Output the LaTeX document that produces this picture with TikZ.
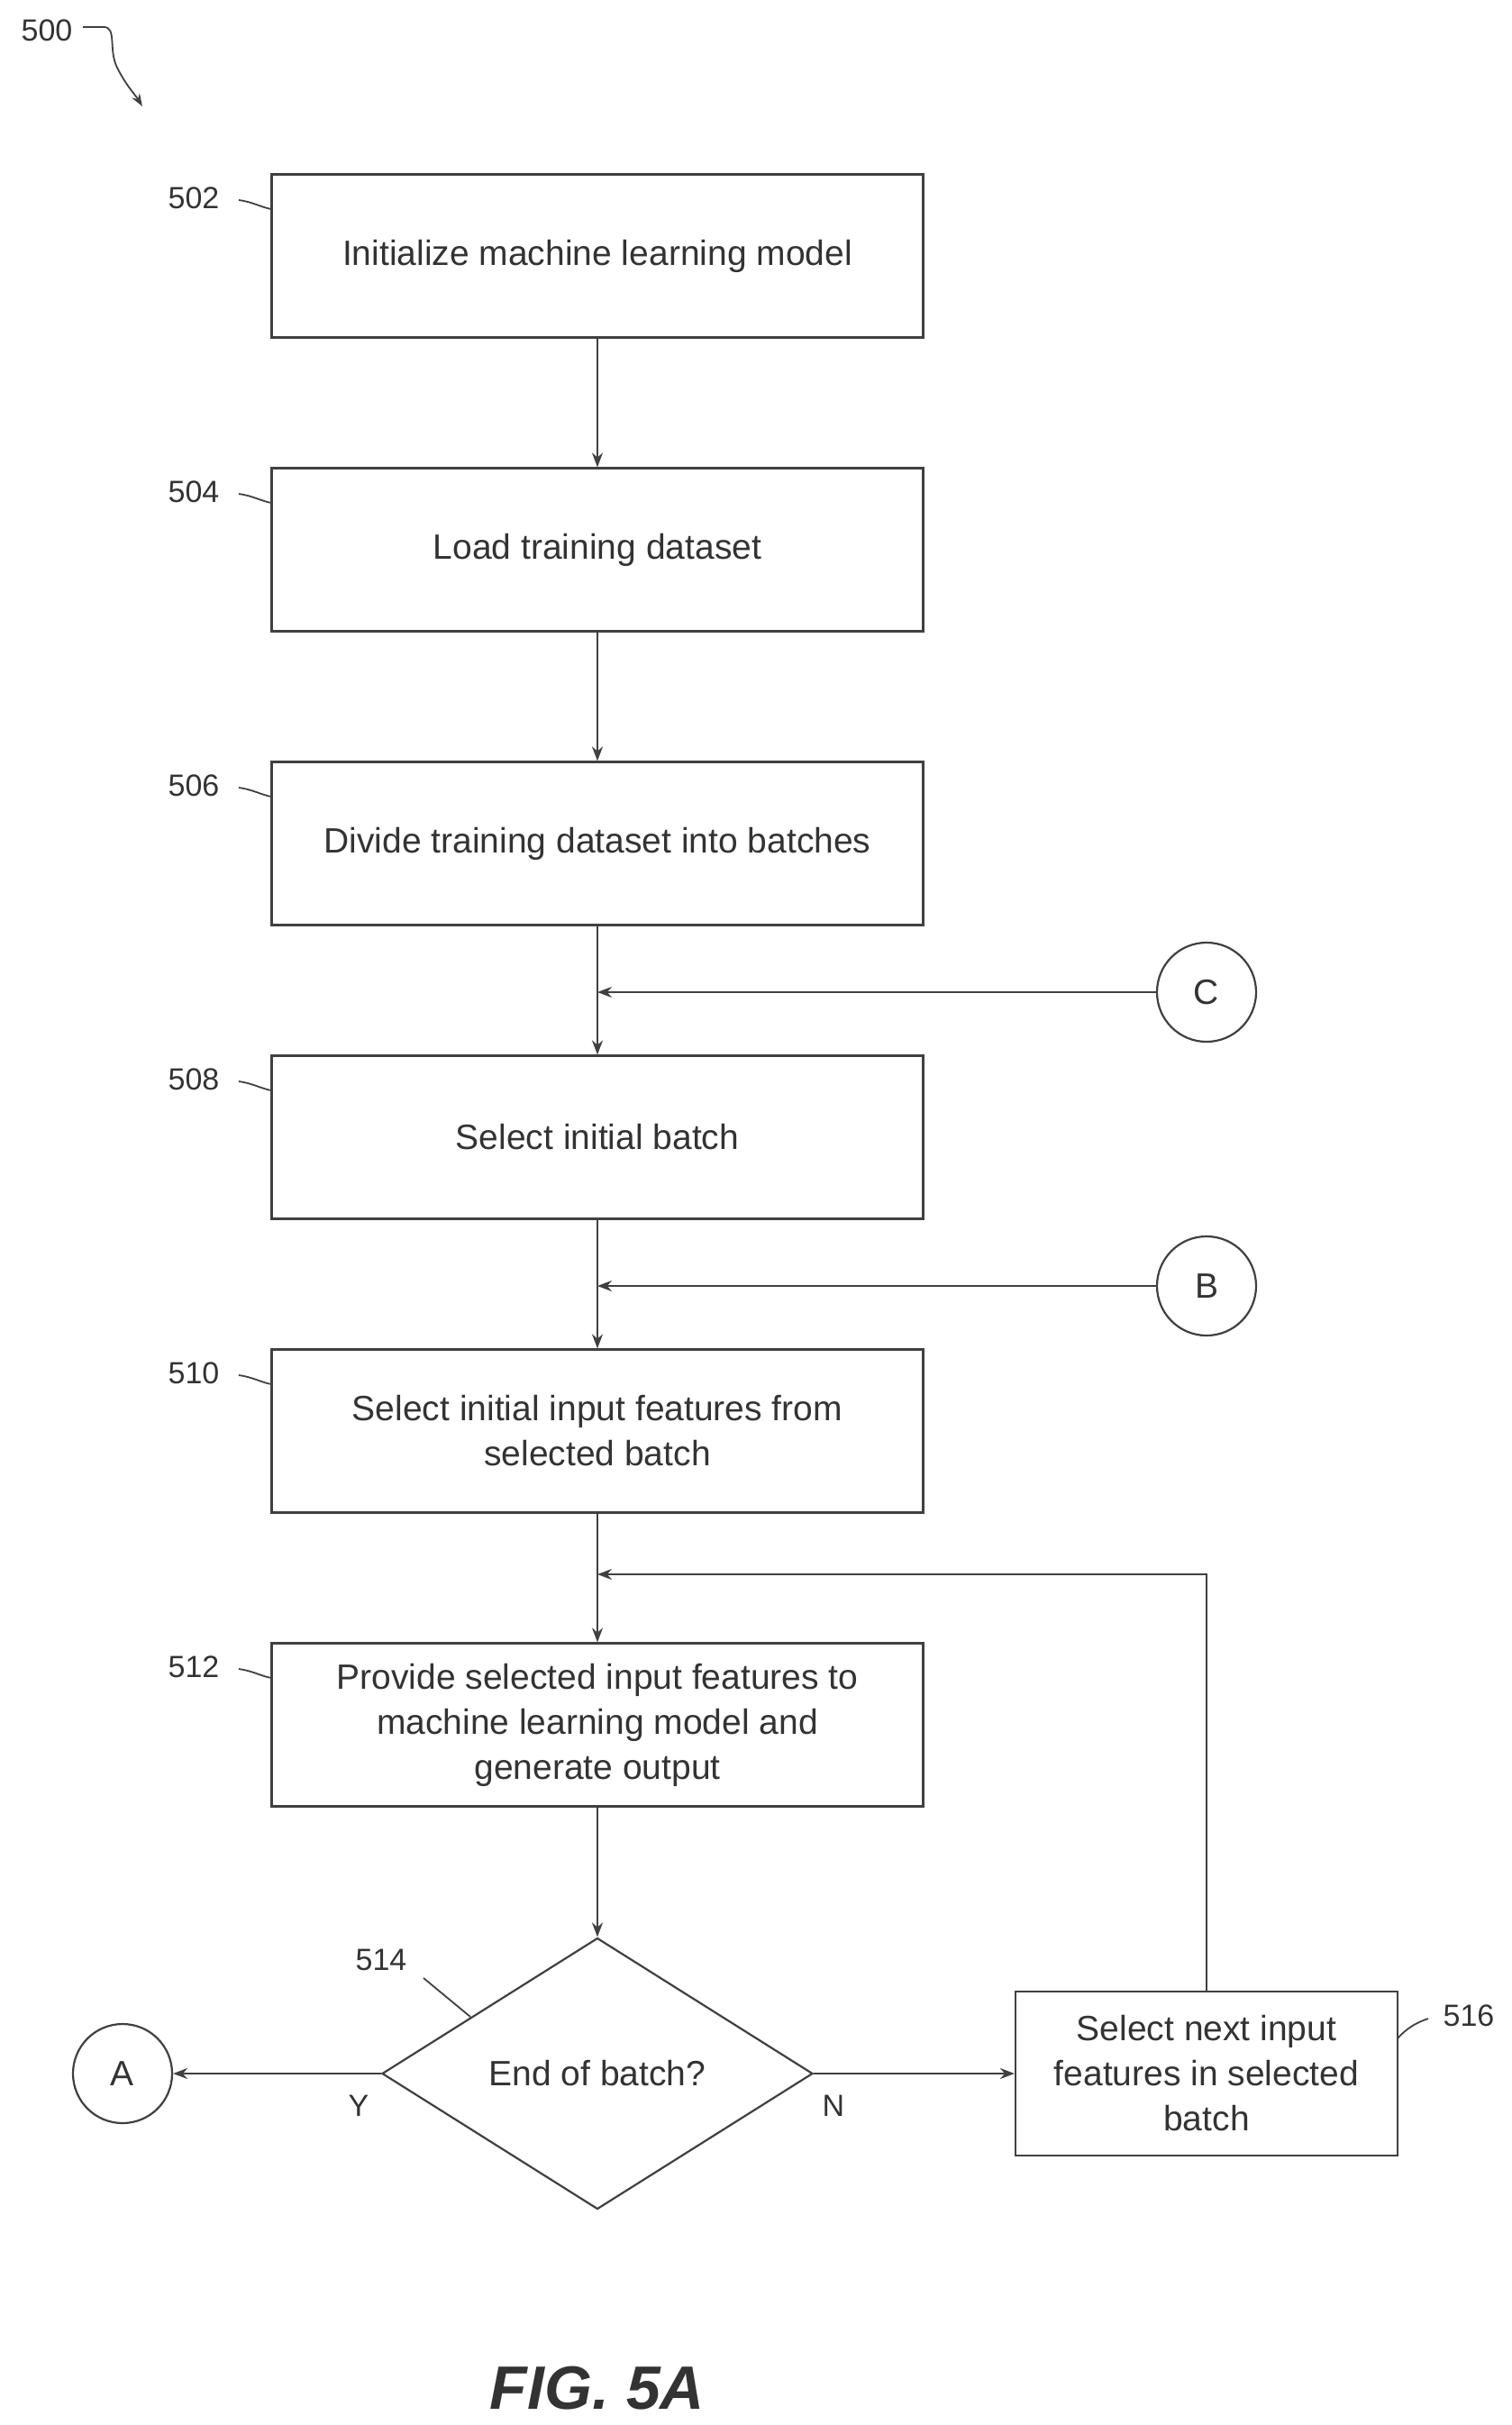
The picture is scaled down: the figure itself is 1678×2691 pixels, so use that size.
\documentclass[tikz,border=0pt]{standalone}
\usepackage{fontspec}
\setmainfont{Liberation Sans}
\usetikzlibrary{shapes.geometric,arrows.meta,decorations.pathmorphing}
\begin{document}
\begin{tikzpicture}[x=1pt,y=-1pt,
  every node/.style={font=\fontsize{39}{50}\selectfont, text=black!80},
  box/.style={draw=black!75, line width=2.2pt, minimum width=723pt, minimum height=181pt, align=center, inner sep=0pt},
  circ/.style={draw=black!75, line width=2.2pt, circle, minimum size=110pt, inner sep=0pt},
  ln/.style={draw=black!75, line width=2.2pt},
  arr/.style={ln, -{Stealth[length=16pt,width=12pt]}},
  lab/.style={font=\fontsize{34}{38}\selectfont}]
\useasboundingbox (0,0) rectangle (1678,2691);
\node[box] (b502) at (663,284) {Initialize machine learning model};
\node[box] (b504) at (663,610) {Load training dataset};
\node[box] (b506) at (663,936) {Divide training dataset into batches};
\node[box] (b508) at (663,1262) {Select initial batch};
\node[box] (b510) at (663,1588) {Select initial input features from\\selected batch};
\node[box] (b512) at (663,1914) {Provide selected input features to\\machine learning model and\\generate output};
\node[diamond, draw=black!75, line width=2.2pt, aspect=1.6, minimum width=478pt, minimum height=301pt, inner sep=0pt] (d514) at (663,2301) {End of batch?};
\node[box, minimum width=424pt, minimum height=182pt] (b516) at (1339,2301) {Select next input\\features in selected\\batch};
\node[circ] (C) at (1339,1101) {C};
\node[circ] (B) at (1339,1427) {B};
\node[circ] (A) at (136,2301) {A};
\draw[arr] (b502) -- (b504);
\draw[arr] (b504) -- (b506);
\draw[arr] (b506) -- (b508);
\draw[arr] (b508) -- (b510);
\draw[arr] (b510) -- (b512);
\draw[arr] (b512) -- (d514);
\coordinate (jc) at (663,1101);
\coordinate (jb) at (663,1427);
\coordinate (jl) at (663,1747);
\draw[arr] (C) -- (jc);
\draw[arr] (B) -- (jb);
\draw[arr] (b516.north) |- (jl);
\draw[arr] (d514.east) -- (b516.west);
\draw[arr] (d514.west) -- (A);
\node[lab] at (925,2337) {N};
\node[lab] at (398,2337) {Y};
\node[lab] (l502) at (215,220) {502};
\node[lab] (l504) at (215,546) {504};
\node[lab] (l506) at (215,872) {506};
\node[lab] (l508) at (215,1198) {508};
\node[lab] (l510) at (215,1524) {510};
\node[lab] (l512) at (215,1850) {512};
\foreach \n/\y in {502/220,504/546,506/872,508/1198,510/1524,512/1850}
  \draw[ln, line width=1.8pt] (265,\y+2) .. controls (280,\y+4) and (290,\y+10) .. (301,\y+12);
\node[lab] (l514) at (423,2175) {514};
\draw[ln, line width=1.8pt] (470,2195) -- (522,2238);
\node[lab] (l516) at (1630,2237) {516};
\draw[ln, line width=1.8pt] (1585,2240) .. controls (1570,2245) and (1560,2252) .. (1551,2262);
\node[lab] (l500) at (52,34) {500};
\draw[ln, line width=1.8pt, -{Stealth[length=14pt,width=10pt]}] (92,30) -- (115,30) .. controls (130,30) and (120,55) .. (130,75) .. controls (140,95) and (150,105) .. (158,118);
\node[font=\bfseries\itshape\fontsize{68}{76}\selectfont] (fig) at (663,2650) {FIG. 5A};
\end{tikzpicture}
\end{document}
